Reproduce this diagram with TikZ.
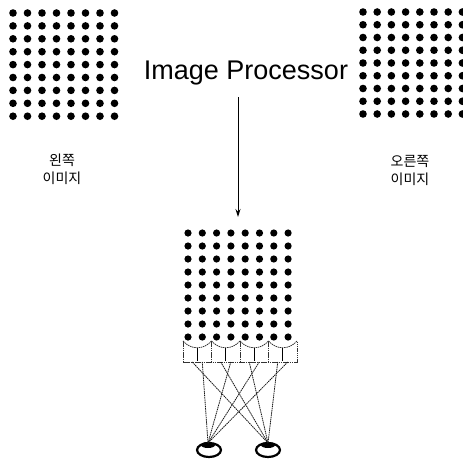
\documentclass[tikz,border=0pt]{standalone}
\usepackage{fontspec}
\setmainfont{Liberation Sans}
\newfontfamily\kr{Noto Sans CJK KR}
\usetikzlibrary{arrows.meta,shapes.geometric}
\begin{document}
\begin{tikzpicture}[x=1pt,y=-1pt,
  ray/.style={line width=0.8pt, dash pattern=on 1.5pt off 0.7pt, black!90},
  lens/.style={line width=0.8pt, dash pattern=on 1.5pt off 0.7pt, black!80},
  eye/.style={draw, ellipse, minimum width=24pt, minimum height=14pt, line width=2.2pt, inner sep=0pt},
  label/.style={font=\kr\fontsize{14}{18}\selectfont, align=center}]
\useasboundingbox (0,0) rectangle (463,461);
% dot grids
\foreach \i in {0,...,7}{\foreach \j in {0,...,8}{
  \fill (13+14.5*\i, 13+12.9*\j) circle (3.8pt);
  \fill (363+14.2*\i, 12+12.75*\j) circle (3.8pt);
  \fill (188+14.3*\i, 233+13*\j) circle (3.6pt);
}}
% texts
\node[font=\fontsize{27}{29}\selectfont, anchor=base] (title) at (246,79) {Image Processor};
\node[label] (leftlbl) at (62,169) {왼쪽\\이미지};
\node[label] (rightlbl) at (410,170) {오른쪽\\이미지};
% arrow
\coordinate (aTop) at (238,97);
\coordinate (aBot) at (238,217);
\draw[-{Stealth[length=8pt,width=5pt]}, line width=0.9pt] (aTop) -- (aBot);
% lens array
\draw[lens] (183,341) -- (183,362) -- (297,362) -- (297,341);
\foreach \k in {1,2,3}{
  \draw[lens] (183+28.5*\k,341) -- (183+28.5*\k,362);
}
\foreach \k in {0,...,3}{
  \pgfmathsetmacro{\xa}{183+28.5*\k}
  \pgfmathsetmacro{\xb}{\xa+28.5}
  \pgfmathsetmacro{\xc}{\xa+14.25}
  \draw[lens] (\xa,341) .. controls (\xa+8,350) and (\xb-8,350) .. (\xb,341);
  \draw[line width=1.2pt] (\xc,348) -- (\xc,361);
  \coordinate (sL\k) at (\xc-5,362);
  \coordinate (sR\k) at (\xc+5,362);
}
% eyes
\node[eye] (eyeL) at (209,450) {};
\node[eye] (eyeR) at (268,450) {};
\coordinate (pL) at (208,443);
\coordinate (pR) at (268,443);
\fill (pL) ++(0,2) ellipse (7pt and 3pt);
\fill (pR) ++(0,2) ellipse (7pt and 3pt);
% rays
\foreach \k in {0,...,3}{
  \draw[ray] (sL\k) -- (pR);
  \draw[ray] (sR\k) -- (pL);
}
\end{tikzpicture}
\end{document}
